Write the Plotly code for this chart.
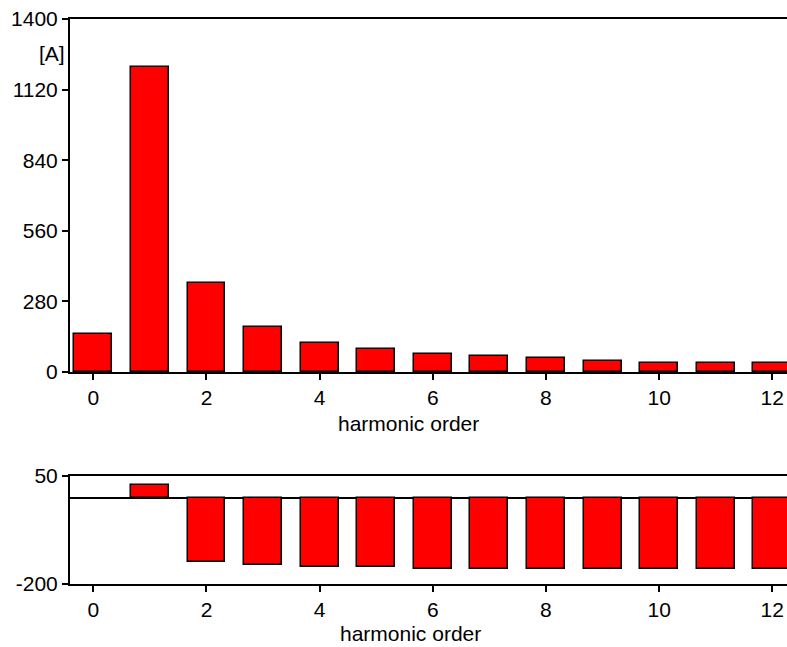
import plotly.graph_objects as go

harmonic_order = [0, 1, 2, 3, 4, 5, 6, 7, 8, 9, 10, 11, 12]
amplitude_A = [152, 1210, 353, 177, 116, 90, 73, 63, 54, 45, 37, 37, 37]
phase_deg = [None, 30, -150, -155, -160, -160, -165, -165, -165, -165, -165, -165, -165]

x_ticks = [0, 2, 4, 6, 8, 10, 12]
top_y_ticks = [0, 280, 560, 840, 1120, 1400]
bottom_y_ticks = [-200, 50]
bottom_y_labels = ["-200", "50"]

W, H = 787, 647
L = 70
FONT = "Liberation Sans, Arial, sans-serif"
FS = 21

fig = go.Figure()
bar_style = dict(marker=dict(color="#ff0000", line=dict(color="black", width=1.5)),
                 width=0.67, showlegend=False, hoverinfo="x+y")
fig.add_trace(go.Bar(x=harmonic_order, y=amplitude_A, xaxis="x", yaxis="y", **bar_style))
fig.add_trace(go.Bar(x=harmonic_order, y=phase_deg, xaxis="x2", yaxis="y2", **bar_style))

def py(page_px):
    return 1 - page_px / H

def px(page_px):
    return (page_px - L) / (W - L)

xr = [-0.412, 12.26]
axis_common = dict(showgrid=False, linecolor="black", linewidth=2, ticks="outside",
                   ticklen=6, tickwidth=2, tickcolor="black", automargin=False,
                   ticklabeloverflow="allow",
                   tickfont=dict(family=FONT, size=FS, color="black"))

fig.update_layout(
    width=W, height=H,
    margin=dict(l=L, r=0, t=0, b=0, autoexpand=False),
    paper_bgcolor="white", plot_bgcolor="white",
    font=dict(family=FONT, size=FS, color="black"),
    bargap=0,
    xaxis=dict(domain=[0, 1], range=xr, tickvals=x_ticks, anchor="y", mirror=True,
               zeroline=False, **axis_common),
    yaxis=dict(domain=[py(372), py(19)], range=[0, 1400], tickvals=top_y_ticks,
               anchor="x", zeroline=False, **axis_common),
    xaxis2=dict(domain=[0, 1], range=xr, tickvals=x_ticks, anchor="y2", mirror=True,
                zeroline=False, **axis_common),
    yaxis2=dict(domain=[py(584), py(476)], range=[-200, 50], tickvals=bottom_y_ticks,
                ticktext=bottom_y_labels,
                anchor="x2", zeroline=True, zerolinecolor="black", zerolinewidth=2,
                **axis_common),
    annotations=[
        dict(text="[A]", xref="paper", yref="paper", x=px(67), y=py(53),
             xanchor="right", yanchor="middle", showarrow=False,
             font=dict(family=FONT, size=FS, color="black")),
        dict(text="harmonic order", xref="paper", yref="paper",
             x=px(408), y=py(423), xanchor="center", yanchor="middle",
             showarrow=False, font=dict(family=FONT, size=FS, color="black")),
        dict(text="harmonic order", xref="paper", yref="paper",
             x=px(410), y=py(633), xanchor="center", yanchor="middle",
             showarrow=False, font=dict(family=FONT, size=FS, color="black")),
    ],
)

fig.write_html(
    "out.html",
    config={"displayModeBar": False},
    post_script="document.body.style.margin='0px';document.body.style.overflow='hidden';",
)
